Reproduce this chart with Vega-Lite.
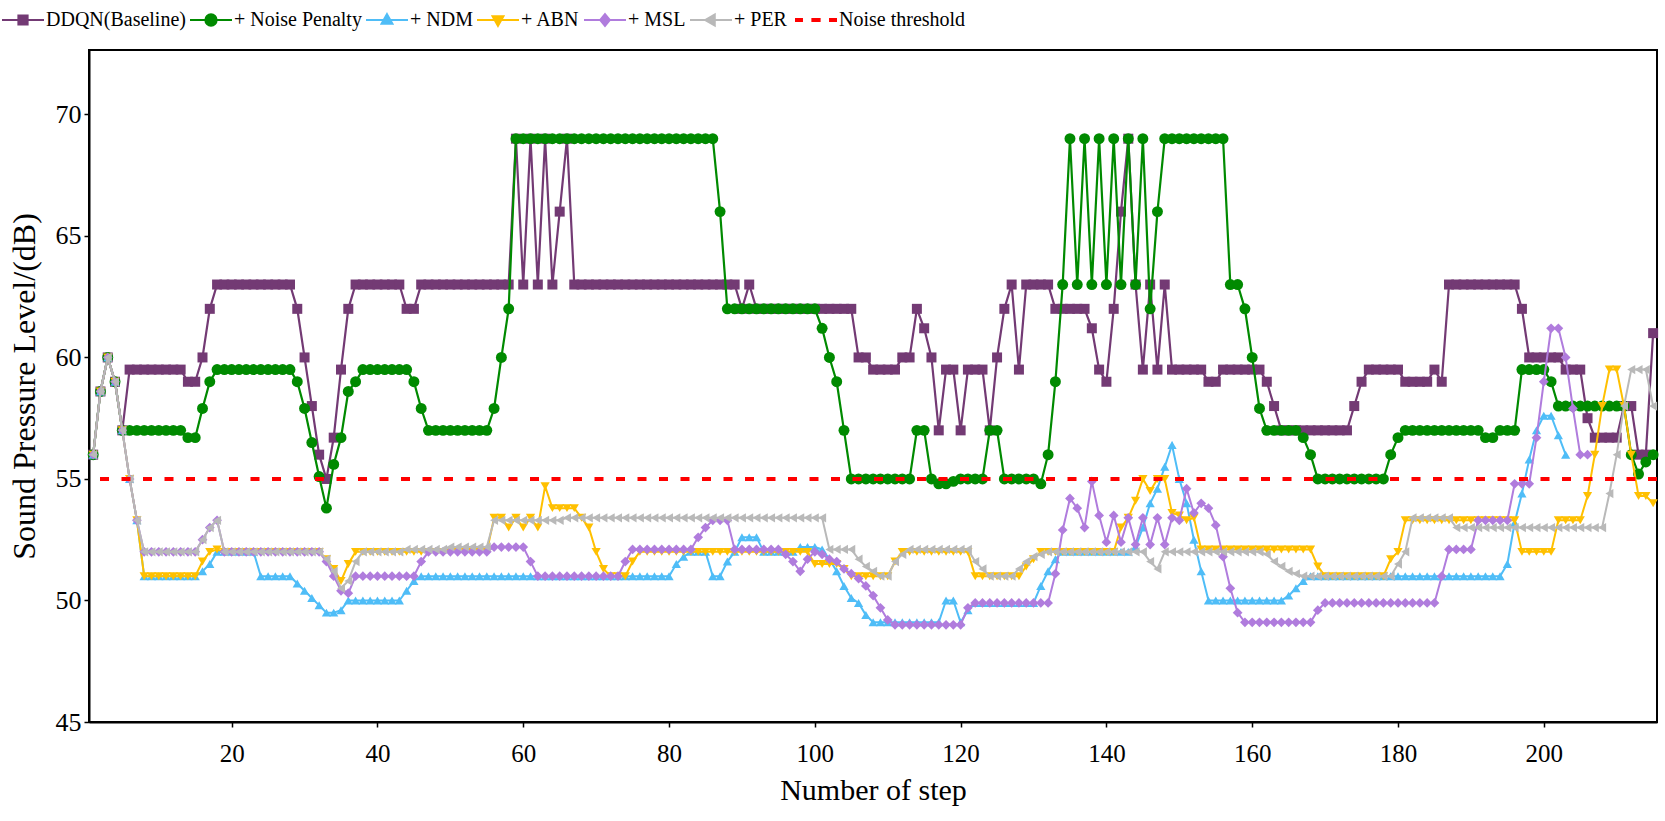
{
"$schema": "https://vega.github.io/schema/vega-lite/v6.json",
"width": 1568, "height": 672,
"autosize": {"type": "none"},
"padding": {"left": 89, "top": 50, "right": 8, "bottom": 99},
"background": "white",
"config": {
 "view": {"stroke": "black", "strokeWidth": 2},
 "font": "Liberation Serif",
 "axis": {"grid": false, "domainColor": "black", "domainWidth": 2, "tickColor": "black", "tickSize": 5, "tickWidth": 1.5, "labelFont": "Liberation Serif", "labelColor": "black", "titleFont": "Liberation Serif", "titleFontWeight": "normal", "titleColor": "black"},
 "axisX": {"labelFontSize": 25, "labelPadding": 14, "titlePadding": 9, "titleFontSize": 30},
 "axisY": {"labelFontSize": 26, "labelPadding": 3, "titlePadding": 14, "titleFontSize": 32}
},
"datasets": {
"base": [{"x":1,"y":56},{"x":2,"y":58.6},{"x":3,"y":60},{"x":4,"y":59},{"x":5,"y":57},{"x":6,"y":59.5},{"x":7,"y":59.5},{"x":8,"y":59.5},{"x":9,"y":59.5},{"x":10,"y":59.5},{"x":11,"y":59.5},{"x":12,"y":59.5},{"x":13,"y":59.5},{"x":14,"y":59},{"x":15,"y":59},{"x":16,"y":60},{"x":17,"y":62},{"x":18,"y":63},{"x":19,"y":63},{"x":20,"y":63},{"x":21,"y":63},{"x":22,"y":63},{"x":23,"y":63},{"x":24,"y":63},{"x":25,"y":63},{"x":26,"y":63},{"x":27,"y":63},{"x":28,"y":63},{"x":29,"y":62},{"x":30,"y":60},{"x":31,"y":58},{"x":32,"y":56},{"x":33,"y":55},{"x":34,"y":56.7},{"x":35,"y":59.5},{"x":36,"y":62},{"x":37,"y":63},{"x":38,"y":63},{"x":39,"y":63},{"x":40,"y":63},{"x":41,"y":63},{"x":42,"y":63},{"x":43,"y":63},{"x":44,"y":62},{"x":45,"y":62},{"x":46,"y":63},{"x":47,"y":63},{"x":48,"y":63},{"x":49,"y":63},{"x":50,"y":63},{"x":51,"y":63},{"x":52,"y":63},{"x":53,"y":63},{"x":54,"y":63},{"x":55,"y":63},{"x":56,"y":63},{"x":57,"y":63},{"x":58,"y":63},{"x":59,"y":69},{"x":60,"y":63},{"x":61,"y":69},{"x":62,"y":63},{"x":63,"y":69},{"x":64,"y":63},{"x":65,"y":66},{"x":66,"y":69},{"x":67,"y":63},{"x":68,"y":63},{"x":69,"y":63},{"x":70,"y":63},{"x":71,"y":63},{"x":72,"y":63},{"x":73,"y":63},{"x":74,"y":63},{"x":75,"y":63},{"x":76,"y":63},{"x":77,"y":63},{"x":78,"y":63},{"x":79,"y":63},{"x":80,"y":63},{"x":81,"y":63},{"x":82,"y":63},{"x":83,"y":63},{"x":84,"y":63},{"x":85,"y":63},{"x":86,"y":63},{"x":87,"y":63},{"x":88,"y":63},{"x":89,"y":63},{"x":90,"y":62},{"x":91,"y":63},{"x":92,"y":62},{"x":93,"y":62},{"x":94,"y":62},{"x":95,"y":62},{"x":96,"y":62},{"x":97,"y":62},{"x":98,"y":62},{"x":99,"y":62},{"x":100,"y":62},{"x":101,"y":62},{"x":102,"y":62},{"x":103,"y":62},{"x":104,"y":62},{"x":105,"y":62},{"x":106,"y":60},{"x":107,"y":60},{"x":108,"y":59.5},{"x":109,"y":59.5},{"x":110,"y":59.5},{"x":111,"y":59.5},{"x":112,"y":60},{"x":113,"y":60},{"x":114,"y":62},{"x":115,"y":61.2},{"x":116,"y":60},{"x":117,"y":57},{"x":118,"y":59.5},{"x":119,"y":59.5},{"x":120,"y":57},{"x":121,"y":59.5},{"x":122,"y":59.5},{"x":123,"y":59.5},{"x":124,"y":57},{"x":125,"y":60},{"x":126,"y":62},{"x":127,"y":63},{"x":128,"y":59.5},{"x":129,"y":63},{"x":130,"y":63},{"x":131,"y":63},{"x":132,"y":63},{"x":133,"y":62},{"x":134,"y":62},{"x":135,"y":62},{"x":136,"y":62},{"x":137,"y":62},{"x":138,"y":61.2},{"x":139,"y":59.5},{"x":140,"y":59},{"x":141,"y":62},{"x":142,"y":66},{"x":143,"y":69},{"x":144,"y":63},{"x":145,"y":59.5},{"x":146,"y":63},{"x":147,"y":59.5},{"x":148,"y":63},{"x":149,"y":59.5},{"x":150,"y":59.5},{"x":151,"y":59.5},{"x":152,"y":59.5},{"x":153,"y":59.5},{"x":154,"y":59},{"x":155,"y":59},{"x":156,"y":59.5},{"x":157,"y":59.5},{"x":158,"y":59.5},{"x":159,"y":59.5},{"x":160,"y":59.5},{"x":161,"y":59.5},{"x":162,"y":59},{"x":163,"y":58},{"x":164,"y":57},{"x":165,"y":57},{"x":166,"y":57},{"x":167,"y":57},{"x":168,"y":57},{"x":169,"y":57},{"x":170,"y":57},{"x":171,"y":57},{"x":172,"y":57},{"x":173,"y":57},{"x":174,"y":58},{"x":175,"y":59},{"x":176,"y":59.5},{"x":177,"y":59.5},{"x":178,"y":59.5},{"x":179,"y":59.5},{"x":180,"y":59.5},{"x":181,"y":59},{"x":182,"y":59},{"x":183,"y":59},{"x":184,"y":59},{"x":185,"y":59.5},{"x":186,"y":59},{"x":187,"y":63},{"x":188,"y":63},{"x":189,"y":63},{"x":190,"y":63},{"x":191,"y":63},{"x":192,"y":63},{"x":193,"y":63},{"x":194,"y":63},{"x":195,"y":63},{"x":196,"y":63},{"x":197,"y":62},{"x":198,"y":60},{"x":199,"y":60},{"x":200,"y":60},{"x":201,"y":60},{"x":202,"y":60},{"x":203,"y":59.5},{"x":204,"y":59.5},{"x":205,"y":59.5},{"x":206,"y":57.5},{"x":207,"y":56.7},{"x":208,"y":56.7},{"x":209,"y":56.7},{"x":210,"y":56.7},{"x":211,"y":58},{"x":212,"y":58},{"x":213,"y":56},{"x":214,"y":56},{"x":215,"y":61}],
"np": [{"x":1,"y":56},{"x":2,"y":58.6},{"x":3,"y":60},{"x":4,"y":59},{"x":5,"y":57},{"x":6,"y":57},{"x":7,"y":57},{"x":8,"y":57},{"x":9,"y":57},{"x":10,"y":57},{"x":11,"y":57},{"x":12,"y":57},{"x":13,"y":57},{"x":14,"y":56.7},{"x":15,"y":56.7},{"x":16,"y":57.9},{"x":17,"y":59},{"x":18,"y":59.5},{"x":19,"y":59.5},{"x":20,"y":59.5},{"x":21,"y":59.5},{"x":22,"y":59.5},{"x":23,"y":59.5},{"x":24,"y":59.5},{"x":25,"y":59.5},{"x":26,"y":59.5},{"x":27,"y":59.5},{"x":28,"y":59.5},{"x":29,"y":59},{"x":30,"y":57.9},{"x":31,"y":56.5},{"x":32,"y":55.1},{"x":33,"y":53.8},{"x":34,"y":55.6},{"x":35,"y":56.7},{"x":36,"y":58.6},{"x":37,"y":59},{"x":38,"y":59.5},{"x":39,"y":59.5},{"x":40,"y":59.5},{"x":41,"y":59.5},{"x":42,"y":59.5},{"x":43,"y":59.5},{"x":44,"y":59.5},{"x":45,"y":59},{"x":46,"y":57.9},{"x":47,"y":57},{"x":48,"y":57},{"x":49,"y":57},{"x":50,"y":57},{"x":51,"y":57},{"x":52,"y":57},{"x":53,"y":57},{"x":54,"y":57},{"x":55,"y":57},{"x":56,"y":57.9},{"x":57,"y":60},{"x":58,"y":62},{"x":59,"y":69},{"x":60,"y":69},{"x":61,"y":69},{"x":62,"y":69},{"x":63,"y":69},{"x":64,"y":69},{"x":65,"y":69},{"x":66,"y":69},{"x":67,"y":69},{"x":68,"y":69},{"x":69,"y":69},{"x":70,"y":69},{"x":71,"y":69},{"x":72,"y":69},{"x":73,"y":69},{"x":74,"y":69},{"x":75,"y":69},{"x":76,"y":69},{"x":77,"y":69},{"x":78,"y":69},{"x":79,"y":69},{"x":80,"y":69},{"x":81,"y":69},{"x":82,"y":69},{"x":83,"y":69},{"x":84,"y":69},{"x":85,"y":69},{"x":86,"y":69},{"x":87,"y":66},{"x":88,"y":62},{"x":89,"y":62},{"x":90,"y":62},{"x":91,"y":62},{"x":92,"y":62},{"x":93,"y":62},{"x":94,"y":62},{"x":95,"y":62},{"x":96,"y":62},{"x":97,"y":62},{"x":98,"y":62},{"x":99,"y":62},{"x":100,"y":62},{"x":101,"y":61.2},{"x":102,"y":60},{"x":103,"y":59},{"x":104,"y":57},{"x":105,"y":55},{"x":106,"y":55},{"x":107,"y":55},{"x":108,"y":55},{"x":109,"y":55},{"x":110,"y":55},{"x":111,"y":55},{"x":112,"y":55},{"x":113,"y":55},{"x":114,"y":57},{"x":115,"y":57},{"x":116,"y":55},{"x":117,"y":54.8},{"x":118,"y":54.8},{"x":119,"y":54.9},{"x":120,"y":55},{"x":121,"y":55},{"x":122,"y":55},{"x":123,"y":55},{"x":124,"y":57},{"x":125,"y":57},{"x":126,"y":55},{"x":127,"y":55},{"x":128,"y":55},{"x":129,"y":55},{"x":130,"y":55},{"x":131,"y":54.8},{"x":132,"y":56},{"x":133,"y":59},{"x":134,"y":63},{"x":135,"y":69},{"x":136,"y":63},{"x":137,"y":69},{"x":138,"y":63},{"x":139,"y":69},{"x":140,"y":63},{"x":141,"y":69},{"x":142,"y":63},{"x":143,"y":69},{"x":144,"y":63},{"x":145,"y":69},{"x":146,"y":62},{"x":147,"y":66},{"x":148,"y":69},{"x":149,"y":69},{"x":150,"y":69},{"x":151,"y":69},{"x":152,"y":69},{"x":153,"y":69},{"x":154,"y":69},{"x":155,"y":69},{"x":156,"y":69},{"x":157,"y":63},{"x":158,"y":63},{"x":159,"y":62},{"x":160,"y":60},{"x":161,"y":57.9},{"x":162,"y":57},{"x":163,"y":57},{"x":164,"y":57},{"x":165,"y":57},{"x":166,"y":57},{"x":167,"y":56.7},{"x":168,"y":56},{"x":169,"y":55},{"x":170,"y":55},{"x":171,"y":55},{"x":172,"y":55},{"x":173,"y":55},{"x":174,"y":55},{"x":175,"y":55},{"x":176,"y":55},{"x":177,"y":55},{"x":178,"y":55},{"x":179,"y":56},{"x":180,"y":56.7},{"x":181,"y":57},{"x":182,"y":57},{"x":183,"y":57},{"x":184,"y":57},{"x":185,"y":57},{"x":186,"y":57},{"x":187,"y":57},{"x":188,"y":57},{"x":189,"y":57},{"x":190,"y":57},{"x":191,"y":57},{"x":192,"y":56.7},{"x":193,"y":56.7},{"x":194,"y":57},{"x":195,"y":57},{"x":196,"y":57},{"x":197,"y":59.5},{"x":198,"y":59.5},{"x":199,"y":59.5},{"x":200,"y":59.5},{"x":201,"y":59},{"x":202,"y":58},{"x":203,"y":58},{"x":204,"y":58},{"x":205,"y":58},{"x":206,"y":58},{"x":207,"y":58},{"x":208,"y":58},{"x":209,"y":58},{"x":210,"y":58},{"x":211,"y":58},{"x":212,"y":56},{"x":213,"y":55.2},{"x":214,"y":55.7},{"x":215,"y":56}],
"ndm": [{"x":1,"y":56},{"x":2,"y":58.6},{"x":3,"y":60},{"x":4,"y":59},{"x":5,"y":57},{"x":6,"y":55},{"x":7,"y":53.3},{"x":8,"y":51},{"x":9,"y":51},{"x":10,"y":51},{"x":11,"y":51},{"x":12,"y":51},{"x":13,"y":51},{"x":14,"y":51},{"x":15,"y":51},{"x":16,"y":51.2},{"x":17,"y":51.5},{"x":18,"y":52},{"x":19,"y":52},{"x":20,"y":52},{"x":21,"y":52},{"x":22,"y":52},{"x":23,"y":52},{"x":24,"y":51},{"x":25,"y":51},{"x":26,"y":51},{"x":27,"y":51},{"x":28,"y":51},{"x":29,"y":50.7},{"x":30,"y":50.4},{"x":31,"y":50.1},{"x":32,"y":49.8},{"x":33,"y":49.5},{"x":34,"y":49.5},{"x":35,"y":49.6},{"x":36,"y":50},{"x":37,"y":50},{"x":38,"y":50},{"x":39,"y":50},{"x":40,"y":50},{"x":41,"y":50},{"x":42,"y":50},{"x":43,"y":50},{"x":44,"y":50.4},{"x":45,"y":50.8},{"x":46,"y":51},{"x":47,"y":51},{"x":48,"y":51},{"x":49,"y":51},{"x":50,"y":51},{"x":51,"y":51},{"x":52,"y":51},{"x":53,"y":51},{"x":54,"y":51},{"x":55,"y":51},{"x":56,"y":51},{"x":57,"y":51},{"x":58,"y":51},{"x":59,"y":51},{"x":60,"y":51},{"x":61,"y":51},{"x":62,"y":51},{"x":63,"y":51},{"x":64,"y":51},{"x":65,"y":51},{"x":66,"y":51},{"x":67,"y":51},{"x":68,"y":51},{"x":69,"y":51},{"x":70,"y":51},{"x":71,"y":51},{"x":72,"y":51},{"x":73,"y":51},{"x":74,"y":51},{"x":75,"y":51},{"x":76,"y":51},{"x":77,"y":51},{"x":78,"y":51},{"x":79,"y":51},{"x":80,"y":51},{"x":81,"y":51.5},{"x":82,"y":51.8},{"x":83,"y":52},{"x":84,"y":52},{"x":85,"y":52},{"x":86,"y":51},{"x":87,"y":51},{"x":88,"y":51.6},{"x":89,"y":52},{"x":90,"y":52.6},{"x":91,"y":52.6},{"x":92,"y":52.6},{"x":93,"y":52},{"x":94,"y":52},{"x":95,"y":52},{"x":96,"y":52},{"x":97,"y":52},{"x":98,"y":52.2},{"x":99,"y":52.2},{"x":100,"y":52.2},{"x":101,"y":52.1},{"x":102,"y":51.7},{"x":103,"y":51.2},{"x":104,"y":50.6},{"x":105,"y":50.1},{"x":106,"y":49.9},{"x":107,"y":49.4},{"x":108,"y":49.1},{"x":109,"y":49.1},{"x":110,"y":49.1},{"x":111,"y":49.1},{"x":112,"y":49.1},{"x":113,"y":49.1},{"x":114,"y":49.1},{"x":115,"y":49.1},{"x":116,"y":49.1},{"x":117,"y":49.1},{"x":118,"y":50},{"x":119,"y":50},{"x":120,"y":49.1},{"x":121,"y":49.6},{"x":122,"y":49.9},{"x":123,"y":49.9},{"x":124,"y":49.9},{"x":125,"y":49.9},{"x":126,"y":49.9},{"x":127,"y":49.9},{"x":128,"y":49.9},{"x":129,"y":49.9},{"x":130,"y":49.9},{"x":131,"y":50.6},{"x":132,"y":51.2},{"x":133,"y":51.7},{"x":134,"y":52},{"x":135,"y":52},{"x":136,"y":52},{"x":137,"y":52},{"x":138,"y":52},{"x":139,"y":52},{"x":140,"y":52},{"x":141,"y":52},{"x":142,"y":52},{"x":143,"y":52},{"x":144,"y":52.2},{"x":145,"y":53},{"x":146,"y":54},{"x":147,"y":54.6},{"x":148,"y":55.5},{"x":149,"y":56.4},{"x":150,"y":55},{"x":151,"y":54},{"x":152,"y":52.5},{"x":153,"y":51.2},{"x":154,"y":50},{"x":155,"y":50},{"x":156,"y":50},{"x":157,"y":50},{"x":158,"y":50},{"x":159,"y":50},{"x":160,"y":50},{"x":161,"y":50},{"x":162,"y":50},{"x":163,"y":50},{"x":164,"y":50},{"x":165,"y":50.2},{"x":166,"y":50.5},{"x":167,"y":50.8},{"x":168,"y":51},{"x":169,"y":51},{"x":170,"y":51},{"x":171,"y":51},{"x":172,"y":51},{"x":173,"y":51},{"x":174,"y":51},{"x":175,"y":51},{"x":176,"y":51},{"x":177,"y":51},{"x":178,"y":51},{"x":179,"y":51},{"x":180,"y":51},{"x":181,"y":51},{"x":182,"y":51},{"x":183,"y":51},{"x":184,"y":51},{"x":185,"y":51},{"x":186,"y":51},{"x":187,"y":51},{"x":188,"y":51},{"x":189,"y":51},{"x":190,"y":51},{"x":191,"y":51},{"x":192,"y":51},{"x":193,"y":51},{"x":194,"y":51},{"x":195,"y":51.5},{"x":196,"y":53.2},{"x":197,"y":54.4},{"x":198,"y":55.8},{"x":199,"y":57},{"x":200,"y":57.6},{"x":201,"y":57.6},{"x":202,"y":56.8},{"x":203,"y":56}],
"abn": [{"x":1,"y":56},{"x":2,"y":58.6},{"x":3,"y":60},{"x":4,"y":59},{"x":5,"y":57},{"x":6,"y":55},{"x":7,"y":53.3},{"x":8,"y":51},{"x":9,"y":51},{"x":10,"y":51},{"x":11,"y":51},{"x":12,"y":51},{"x":13,"y":51},{"x":14,"y":51},{"x":15,"y":51},{"x":16,"y":51.6},{"x":17,"y":52},{"x":18,"y":52.1},{"x":19,"y":52},{"x":20,"y":52},{"x":21,"y":52},{"x":22,"y":52},{"x":23,"y":52},{"x":24,"y":52},{"x":25,"y":52},{"x":26,"y":52},{"x":27,"y":52},{"x":28,"y":52},{"x":29,"y":52},{"x":30,"y":52},{"x":31,"y":52},{"x":32,"y":52},{"x":33,"y":51.7},{"x":34,"y":51.3},{"x":35,"y":50.8},{"x":36,"y":51.5},{"x":37,"y":52},{"x":38,"y":52},{"x":39,"y":52},{"x":40,"y":52},{"x":41,"y":52},{"x":42,"y":52},{"x":43,"y":52},{"x":44,"y":52},{"x":45,"y":52},{"x":46,"y":52},{"x":47,"y":52},{"x":48,"y":52},{"x":49,"y":52},{"x":50,"y":52},{"x":51,"y":52},{"x":52,"y":52},{"x":53,"y":52},{"x":54,"y":52},{"x":55,"y":52},{"x":56,"y":53.4},{"x":57,"y":53.4},{"x":58,"y":53},{"x":59,"y":53.4},{"x":60,"y":53},{"x":61,"y":53.4},{"x":62,"y":53},{"x":63,"y":54.7},{"x":64,"y":53.8},{"x":65,"y":53.8},{"x":66,"y":53.8},{"x":67,"y":53.8},{"x":68,"y":53.4},{"x":69,"y":53},{"x":70,"y":52},{"x":71,"y":51.3},{"x":72,"y":51},{"x":73,"y":51},{"x":74,"y":51},{"x":75,"y":51.6},{"x":76,"y":52},{"x":77,"y":52},{"x":78,"y":52},{"x":79,"y":52},{"x":80,"y":52},{"x":81,"y":52},{"x":82,"y":52},{"x":83,"y":52},{"x":84,"y":52},{"x":85,"y":52},{"x":86,"y":52},{"x":87,"y":52},{"x":88,"y":52},{"x":89,"y":52},{"x":90,"y":52},{"x":91,"y":52},{"x":92,"y":52},{"x":93,"y":52},{"x":94,"y":52},{"x":95,"y":52},{"x":96,"y":52},{"x":97,"y":52},{"x":98,"y":52},{"x":99,"y":52},{"x":100,"y":51.5},{"x":101,"y":51.5},{"x":102,"y":51.5},{"x":103,"y":51.5},{"x":104,"y":51.3},{"x":105,"y":51},{"x":106,"y":51},{"x":107,"y":51},{"x":108,"y":51},{"x":109,"y":51},{"x":110,"y":51},{"x":111,"y":51.6},{"x":112,"y":52},{"x":113,"y":52},{"x":114,"y":52},{"x":115,"y":52},{"x":116,"y":52},{"x":117,"y":52},{"x":118,"y":52},{"x":119,"y":52},{"x":120,"y":52},{"x":121,"y":52},{"x":122,"y":51},{"x":123,"y":51},{"x":124,"y":51},{"x":125,"y":51},{"x":126,"y":51},{"x":127,"y":51},{"x":128,"y":51},{"x":129,"y":51.4},{"x":130,"y":51.7},{"x":131,"y":52},{"x":132,"y":52},{"x":133,"y":52},{"x":134,"y":52},{"x":135,"y":52},{"x":136,"y":52},{"x":137,"y":52},{"x":138,"y":52},{"x":139,"y":52},{"x":140,"y":52},{"x":141,"y":52},{"x":142,"y":53},{"x":143,"y":53.4},{"x":144,"y":54.1},{"x":145,"y":55},{"x":146,"y":54.5},{"x":147,"y":55},{"x":148,"y":55},{"x":149,"y":53.6},{"x":150,"y":53.5},{"x":151,"y":53.3},{"x":152,"y":53.4},{"x":153,"y":52.1},{"x":154,"y":52.1},{"x":155,"y":52.1},{"x":156,"y":52.1},{"x":157,"y":52.1},{"x":158,"y":52.1},{"x":159,"y":52.1},{"x":160,"y":52.1},{"x":161,"y":52.1},{"x":162,"y":52.1},{"x":163,"y":52.1},{"x":164,"y":52.1},{"x":165,"y":52.1},{"x":166,"y":52.1},{"x":167,"y":52.1},{"x":168,"y":52.1},{"x":169,"y":51.4},{"x":170,"y":51},{"x":171,"y":51},{"x":172,"y":51},{"x":173,"y":51},{"x":174,"y":51},{"x":175,"y":51},{"x":176,"y":51},{"x":177,"y":51},{"x":178,"y":51},{"x":179,"y":51.7},{"x":180,"y":52},{"x":181,"y":53.3},{"x":182,"y":53.3},{"x":183,"y":53.3},{"x":184,"y":53.3},{"x":185,"y":53.3},{"x":186,"y":53.3},{"x":187,"y":53.3},{"x":188,"y":53.3},{"x":189,"y":53.3},{"x":190,"y":53.3},{"x":191,"y":53.3},{"x":192,"y":53.3},{"x":193,"y":53.3},{"x":194,"y":53.3},{"x":195,"y":53.3},{"x":196,"y":53.3},{"x":197,"y":52},{"x":198,"y":52},{"x":199,"y":52},{"x":200,"y":52},{"x":201,"y":52},{"x":202,"y":53.3},{"x":203,"y":53.3},{"x":204,"y":53.3},{"x":205,"y":53.3},{"x":206,"y":54.3},{"x":207,"y":56},{"x":208,"y":58},{"x":209,"y":59.5},{"x":210,"y":59.5},{"x":211,"y":58},{"x":212,"y":56},{"x":213,"y":54.3},{"x":214,"y":54.3},{"x":215,"y":54}],
"msl": [{"x":1,"y":56},{"x":2,"y":58.6},{"x":3,"y":60},{"x":4,"y":59},{"x":5,"y":57},{"x":6,"y":55},{"x":7,"y":53.3},{"x":8,"y":52},{"x":9,"y":52},{"x":10,"y":52},{"x":11,"y":52},{"x":12,"y":52},{"x":13,"y":52},{"x":14,"y":52},{"x":15,"y":52},{"x":16,"y":52.5},{"x":17,"y":53},{"x":18,"y":53.3},{"x":19,"y":52},{"x":20,"y":52},{"x":21,"y":52},{"x":22,"y":52},{"x":23,"y":52},{"x":24,"y":52},{"x":25,"y":52},{"x":26,"y":52},{"x":27,"y":52},{"x":28,"y":52},{"x":29,"y":52},{"x":30,"y":52},{"x":31,"y":52},{"x":32,"y":52},{"x":33,"y":51.6},{"x":34,"y":51},{"x":35,"y":50.4},{"x":36,"y":50.3},{"x":37,"y":51},{"x":38,"y":51},{"x":39,"y":51},{"x":40,"y":51},{"x":41,"y":51},{"x":42,"y":51},{"x":43,"y":51},{"x":44,"y":51},{"x":45,"y":51},{"x":46,"y":51.6},{"x":47,"y":52},{"x":48,"y":52},{"x":49,"y":52},{"x":50,"y":52},{"x":51,"y":52},{"x":52,"y":52},{"x":53,"y":52},{"x":54,"y":52},{"x":55,"y":52},{"x":56,"y":52.2},{"x":57,"y":52.2},{"x":58,"y":52.2},{"x":59,"y":52.2},{"x":60,"y":52.2},{"x":61,"y":51.6},{"x":62,"y":51},{"x":63,"y":51},{"x":64,"y":51},{"x":65,"y":51},{"x":66,"y":51},{"x":67,"y":51},{"x":68,"y":51},{"x":69,"y":51},{"x":70,"y":51},{"x":71,"y":51},{"x":72,"y":51},{"x":73,"y":51},{"x":74,"y":51.6},{"x":75,"y":52.1},{"x":76,"y":52.1},{"x":77,"y":52.1},{"x":78,"y":52.1},{"x":79,"y":52.1},{"x":80,"y":52.1},{"x":81,"y":52.1},{"x":82,"y":52.1},{"x":83,"y":52.1},{"x":84,"y":52.6},{"x":85,"y":53},{"x":86,"y":53.3},{"x":87,"y":53.3},{"x":88,"y":53.3},{"x":89,"y":52.1},{"x":90,"y":52.1},{"x":91,"y":52.1},{"x":92,"y":52.1},{"x":93,"y":52.1},{"x":94,"y":52.1},{"x":95,"y":52.1},{"x":96,"y":51.9},{"x":97,"y":51.6},{"x":98,"y":51.2},{"x":99,"y":51.7},{"x":100,"y":52},{"x":101,"y":51.9},{"x":102,"y":51.7},{"x":103,"y":51.6},{"x":104,"y":51.3},{"x":105,"y":51.1},{"x":106,"y":50.9},{"x":107,"y":50.6},{"x":108,"y":50.2},{"x":109,"y":49.7},{"x":110,"y":49.2},{"x":111,"y":49},{"x":112,"y":49},{"x":113,"y":49},{"x":114,"y":49},{"x":115,"y":49},{"x":116,"y":49},{"x":117,"y":49},{"x":118,"y":49},{"x":119,"y":49},{"x":120,"y":49},{"x":121,"y":49.7},{"x":122,"y":49.9},{"x":123,"y":49.9},{"x":124,"y":49.9},{"x":125,"y":49.9},{"x":126,"y":49.9},{"x":127,"y":49.9},{"x":128,"y":49.9},{"x":129,"y":49.9},{"x":130,"y":49.9},{"x":131,"y":49.9},{"x":132,"y":49.9},{"x":133,"y":51.1},{"x":134,"y":52.9},{"x":135,"y":54.2},{"x":136,"y":53.8},{"x":137,"y":53},{"x":138,"y":54.9},{"x":139,"y":53.5},{"x":140,"y":52.4},{"x":141,"y":53.5},{"x":142,"y":52.4},{"x":143,"y":53.4},{"x":144,"y":52.3},{"x":145,"y":53.4},{"x":146,"y":52.3},{"x":147,"y":53.4},{"x":148,"y":52.3},{"x":149,"y":53.4},{"x":150,"y":53.3},{"x":151,"y":54.6},{"x":152,"y":53.6},{"x":153,"y":54},{"x":154,"y":53.8},{"x":155,"y":53.1},{"x":156,"y":51.8},{"x":157,"y":50.5},{"x":158,"y":49.5},{"x":159,"y":49.1},{"x":160,"y":49.1},{"x":161,"y":49.1},{"x":162,"y":49.1},{"x":163,"y":49.1},{"x":164,"y":49.1},{"x":165,"y":49.1},{"x":166,"y":49.1},{"x":167,"y":49.1},{"x":168,"y":49.1},{"x":169,"y":49.6},{"x":170,"y":49.9},{"x":171,"y":49.9},{"x":172,"y":49.9},{"x":173,"y":49.9},{"x":174,"y":49.9},{"x":175,"y":49.9},{"x":176,"y":49.9},{"x":177,"y":49.9},{"x":178,"y":49.9},{"x":179,"y":49.9},{"x":180,"y":49.9},{"x":181,"y":49.9},{"x":182,"y":49.9},{"x":183,"y":49.9},{"x":184,"y":49.9},{"x":185,"y":49.9},{"x":186,"y":51},{"x":187,"y":52.1},{"x":188,"y":52.1},{"x":189,"y":52.1},{"x":190,"y":52.1},{"x":191,"y":53.3},{"x":192,"y":53.3},{"x":193,"y":53.3},{"x":194,"y":53.3},{"x":195,"y":53.3},{"x":196,"y":54.8},{"x":197,"y":54.8},{"x":198,"y":54.8},{"x":199,"y":56.7},{"x":200,"y":59},{"x":201,"y":61.2},{"x":202,"y":61.2},{"x":203,"y":60},{"x":204,"y":57.9},{"x":205,"y":56},{"x":206,"y":56}],
"per": [{"x":1,"y":56},{"x":2,"y":58.6},{"x":3,"y":60},{"x":4,"y":59},{"x":5,"y":57},{"x":6,"y":55},{"x":7,"y":53.3},{"x":8,"y":52},{"x":9,"y":52},{"x":10,"y":52},{"x":11,"y":52},{"x":12,"y":52},{"x":13,"y":52},{"x":14,"y":52},{"x":15,"y":52},{"x":16,"y":52.5},{"x":17,"y":53},{"x":18,"y":53.3},{"x":19,"y":52},{"x":20,"y":52},{"x":21,"y":52},{"x":22,"y":52},{"x":23,"y":52},{"x":24,"y":52},{"x":25,"y":52},{"x":26,"y":52},{"x":27,"y":52},{"x":28,"y":52},{"x":29,"y":52},{"x":30,"y":52},{"x":31,"y":52},{"x":32,"y":52},{"x":33,"y":51.7},{"x":34,"y":51.2},{"x":35,"y":50.5},{"x":36,"y":50.8},{"x":37,"y":51.6},{"x":38,"y":52},{"x":39,"y":52},{"x":40,"y":52},{"x":41,"y":52},{"x":42,"y":52},{"x":43,"y":52},{"x":44,"y":52.1},{"x":45,"y":52.1},{"x":46,"y":52.1},{"x":47,"y":52.1},{"x":48,"y":52.1},{"x":49,"y":52.1},{"x":50,"y":52.2},{"x":51,"y":52.2},{"x":52,"y":52.2},{"x":53,"y":52.2},{"x":54,"y":52.2},{"x":55,"y":52.2},{"x":56,"y":53.3},{"x":57,"y":53.3},{"x":58,"y":53.3},{"x":59,"y":53.3},{"x":60,"y":53.3},{"x":61,"y":53.3},{"x":62,"y":53.3},{"x":63,"y":53.3},{"x":64,"y":53.3},{"x":65,"y":53.3},{"x":66,"y":53.4},{"x":67,"y":53.4},{"x":68,"y":53.4},{"x":69,"y":53.4},{"x":70,"y":53.4},{"x":71,"y":53.4},{"x":72,"y":53.4},{"x":73,"y":53.4},{"x":74,"y":53.4},{"x":75,"y":53.4},{"x":76,"y":53.4},{"x":77,"y":53.4},{"x":78,"y":53.4},{"x":79,"y":53.4},{"x":80,"y":53.4},{"x":81,"y":53.4},{"x":82,"y":53.4},{"x":83,"y":53.4},{"x":84,"y":53.4},{"x":85,"y":53.4},{"x":86,"y":53.4},{"x":87,"y":53.4},{"x":88,"y":53.4},{"x":89,"y":53.4},{"x":90,"y":53.4},{"x":91,"y":53.4},{"x":92,"y":53.4},{"x":93,"y":53.4},{"x":94,"y":53.4},{"x":95,"y":53.4},{"x":96,"y":53.4},{"x":97,"y":53.4},{"x":98,"y":53.4},{"x":99,"y":53.4},{"x":100,"y":53.4},{"x":101,"y":53.4},{"x":102,"y":52.1},{"x":103,"y":52.1},{"x":104,"y":52.1},{"x":105,"y":52.1},{"x":106,"y":51.7},{"x":107,"y":51.4},{"x":108,"y":51.2},{"x":109,"y":51},{"x":110,"y":51},{"x":111,"y":51.6},{"x":112,"y":51.9},{"x":113,"y":52.1},{"x":114,"y":52.1},{"x":115,"y":52.1},{"x":116,"y":52.1},{"x":117,"y":52.1},{"x":118,"y":52.1},{"x":119,"y":52.1},{"x":120,"y":52.1},{"x":121,"y":52.1},{"x":122,"y":51.6},{"x":123,"y":51.3},{"x":124,"y":51},{"x":125,"y":51},{"x":126,"y":51},{"x":127,"y":51},{"x":128,"y":51.3},{"x":129,"y":51.6},{"x":130,"y":51.8},{"x":131,"y":51.9},{"x":132,"y":52},{"x":133,"y":52},{"x":134,"y":52},{"x":135,"y":52},{"x":136,"y":52},{"x":137,"y":52},{"x":138,"y":52},{"x":139,"y":52},{"x":140,"y":52},{"x":141,"y":52},{"x":142,"y":52},{"x":143,"y":52},{"x":144,"y":52},{"x":145,"y":52},{"x":146,"y":51.6},{"x":147,"y":51.3},{"x":148,"y":52},{"x":149,"y":52},{"x":150,"y":52},{"x":151,"y":52},{"x":152,"y":52},{"x":153,"y":52},{"x":154,"y":52},{"x":155,"y":52},{"x":156,"y":52},{"x":157,"y":52},{"x":158,"y":52},{"x":159,"y":52},{"x":160,"y":52},{"x":161,"y":52},{"x":162,"y":51.9},{"x":163,"y":51.6},{"x":164,"y":51.4},{"x":165,"y":51.2},{"x":166,"y":51.1},{"x":167,"y":51},{"x":168,"y":51},{"x":169,"y":51},{"x":170,"y":51},{"x":171,"y":51},{"x":172,"y":51},{"x":173,"y":51},{"x":174,"y":51},{"x":175,"y":51},{"x":176,"y":51},{"x":177,"y":51},{"x":178,"y":51},{"x":179,"y":51},{"x":180,"y":51.5},{"x":181,"y":52},{"x":182,"y":53.4},{"x":183,"y":53.4},{"x":184,"y":53.4},{"x":185,"y":53.4},{"x":186,"y":53.4},{"x":187,"y":53.4},{"x":188,"y":53},{"x":189,"y":53},{"x":190,"y":53},{"x":191,"y":53},{"x":192,"y":53},{"x":193,"y":53},{"x":194,"y":53},{"x":195,"y":53},{"x":196,"y":53},{"x":197,"y":53},{"x":198,"y":53},{"x":199,"y":53},{"x":200,"y":53},{"x":201,"y":53},{"x":202,"y":53},{"x":203,"y":53},{"x":204,"y":53},{"x":205,"y":53},{"x":206,"y":53},{"x":207,"y":53},{"x":208,"y":53},{"x":209,"y":54.4},{"x":210,"y":56},{"x":211,"y":58},{"x":212,"y":59.5},{"x":213,"y":59.5},{"x":214,"y":59.5},{"x":215,"y":58}],
"thr": [{"level": 55}]
},
"layer": [
 {"data": {"name": "base"},
  "mark": {"type": "line", "strokeWidth": 2.2, "point": {"shape": "square", "size": 100, "filled": true, "opacity": 1}},
  "encoding": {
   "x": {"field": "x", "type": "quantitative", "scale": {"domain": [0.43, 215.53], "nice": false, "zero": false}, "axis": {"title": "Number of step", "values": [20,40,60,80,100,120,140,160,180,200]}},
   "y": {"field": "y", "type": "quantitative", "scale": {"domain": [45, 72.65], "nice": false, "zero": false}, "axis": {"title": "Sound Pressure Level/(dB)", "values": [45,50,55,60,65,70]}},
   "color": {"datum": "DDQN(Baseline)", "type": "nominal",
    "scale": {"domain": ["DDQN(Baseline)", "+ Noise Penalty", "+ NDM", "+ ABN", "+ MSL", "+ PER", "Noise threshold"], "range": ["#733A74", "#008A00", "#4FBDF7", "#FFC000", "#B07CDD", "#B9B9B9", "#FF0000"]},
    "legend": {"orient": "none", "legendX": -76, "legendY": -40, "direction": "horizontal", "title": null, "columns": 7, "labelFont": "Liberation Serif", "labelFontSize": 20, "labelColor": "black", "labelOffset": 13, "columnPadding": 0, "symbolSize": 1764, "symbolStrokeWidth": 2,
     "encode": {"symbols": {"update": {
      "shape": {"signal": "datum.value == 'DDQN(Baseline)' ? 'M-1,0H1M-0.22,-0.22H0.22V0.22H-0.22Z' : datum.value == '+ Noise Penalty' ? 'M-1,0H1M-0.27,0A0.27,0.27,0,1,0,0.27,0A0.27,0.27,0,1,0,-0.27,0Z' : datum.value == '+ NDM' ? 'M-1,0H1M0,-0.28L0.26,0.18L-0.26,0.18Z' : datum.value == '+ ABN' ? 'M-1,0H1M0,0.28L0.26,-0.18L-0.26,-0.18Z' : datum.value == '+ MSL' ? 'M-1,0H1M0,-0.28L0.23,0L0,0.28L-0.23,0Z' : datum.value == '+ PER' ? 'M-1,0H1M-0.28,0L0.18,-0.26L0.18,0.26Z' : 'M-1,0H-0.62M-0.22,0H0.22M0.62,0H1'"},
      "fill": {"scale": "color", "field": "value"},
      "stroke": {"scale": "color", "field": "value"},
      "strokeWidth": {"signal": "datum.value == 'Noise threshold' ? 4 : 2"},
      "opacity": {"value": 1}, "fillOpacity": {"value": 1}, "strokeOpacity": {"value": 1}}}}}}
  }},
 {"data": {"name": "np"},
  "mark": {"type": "line", "strokeWidth": 2.2, "point": {"shape": "circle", "size": 120, "filled": true, "opacity": 1}},
  "encoding": {
   "x": {"field": "x", "type": "quantitative", "scale": {"domain": [0.43, 215.53], "nice": false, "zero": false}, "axis": {"title": "Number of step", "values": [20,40,60,80,100,120,140,160,180,200]}},
   "y": {"field": "y", "type": "quantitative", "scale": {"domain": [45, 72.65], "nice": false, "zero": false}, "axis": {"title": "Sound Pressure Level/(dB)", "values": [45,50,55,60,65,70]}},
   "color": {"datum": "+ Noise Penalty", "type": "nominal"}}},
 {"data": {"name": "ndm"},
  "mark": {"type": "line", "strokeWidth": 2, "point": {"shape": "triangle-up", "size": 85, "filled": true, "opacity": 1}},
  "encoding": {
   "x": {"field": "x", "type": "quantitative", "scale": {"domain": [0.43, 215.53], "nice": false, "zero": false}, "axis": {"title": "Number of step", "values": [20,40,60,80,100,120,140,160,180,200]}},
   "y": {"field": "y", "type": "quantitative", "scale": {"domain": [45, 72.65], "nice": false, "zero": false}, "axis": {"title": "Sound Pressure Level/(dB)", "values": [45,50,55,60,65,70]}},
   "color": {"datum": "+ NDM", "type": "nominal"}}},
 {"data": {"name": "abn"},
  "mark": {"type": "line", "strokeWidth": 2, "point": {"shape": "triangle-down", "size": 85, "filled": true, "opacity": 1}},
  "encoding": {
   "x": {"field": "x", "type": "quantitative", "scale": {"domain": [0.43, 215.53], "nice": false, "zero": false}, "axis": {"title": "Number of step", "values": [20,40,60,80,100,120,140,160,180,200]}},
   "y": {"field": "y", "type": "quantitative", "scale": {"domain": [45, 72.65], "nice": false, "zero": false}, "axis": {"title": "Sound Pressure Level/(dB)", "values": [45,50,55,60,65,70]}},
   "color": {"datum": "+ ABN", "type": "nominal"}}},
 {"data": {"name": "msl"},
  "mark": {"type": "line", "strokeWidth": 2, "point": {"shape": "diamond", "size": 95, "filled": true, "opacity": 1}},
  "encoding": {
   "x": {"field": "x", "type": "quantitative", "scale": {"domain": [0.43, 215.53], "nice": false, "zero": false}, "axis": {"title": "Number of step", "values": [20,40,60,80,100,120,140,160,180,200]}},
   "y": {"field": "y", "type": "quantitative", "scale": {"domain": [45, 72.65], "nice": false, "zero": false}, "axis": {"title": "Sound Pressure Level/(dB)", "values": [45,50,55,60,65,70]}},
   "color": {"datum": "+ MSL", "type": "nominal"}}},
 {"data": {"name": "per"},
  "mark": {"type": "line", "strokeWidth": 2, "point": {"shape": "triangle-left", "size": 85, "filled": true, "opacity": 1}},
  "encoding": {
   "x": {"field": "x", "type": "quantitative", "scale": {"domain": [0.43, 215.53], "nice": false, "zero": false}, "axis": {"title": "Number of step", "values": [20,40,60,80,100,120,140,160,180,200]}},
   "y": {"field": "y", "type": "quantitative", "scale": {"domain": [45, 72.65], "nice": false, "zero": false}, "axis": {"title": "Sound Pressure Level/(dB)", "values": [45,50,55,60,65,70]}},
   "color": {"datum": "+ PER", "type": "nominal"}}},
 {"data": {"name": "thr"},
  "mark": {"type": "rule", "strokeWidth": 4, "strokeDash": [9, 12.5]},
  "encoding": {
   "y": {"field": "level", "type": "quantitative", "scale": {"domain": [45, 72.65], "nice": false, "zero": false}, "axis": {"title": "Sound Pressure Level/(dB)", "values": [45,50,55,60,65,70]}},
   "color": {"datum": "Noise threshold", "type": "nominal"}}}
]
}
